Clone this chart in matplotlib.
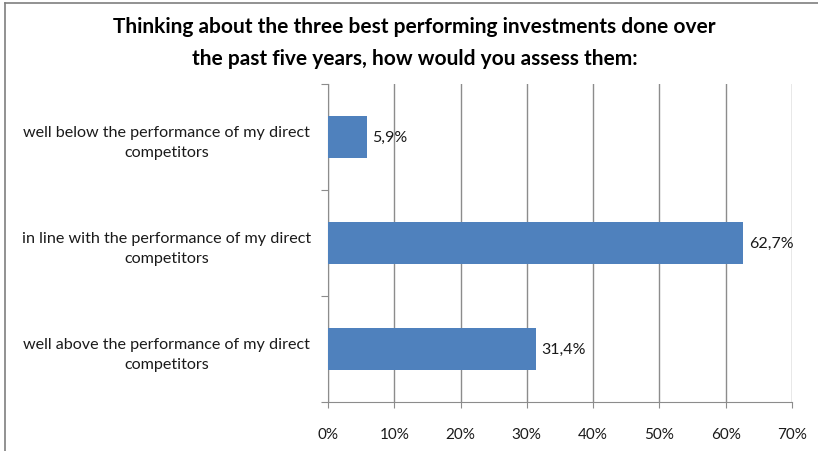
import matplotlib
matplotlib.use('Agg')
import matplotlib.pyplot as plt
from matplotlib.lines import Line2D

plt.rcParams['font.family'] = ['Lato', 'DejaVu Sans']

categories = [
    'well above the performance of my direct\ncompetitors',
    'in line with the performance of my direct\ncompetitors',
    'well below the performance of my direct\ncompetitors',
]
values = [31.4, 62.7, 5.9]
value_labels = ['31,4%', '62,7%', '5,9%']
xticks = [0, 10, 20, 30, 40, 50, 60, 70]

title = ('Thinking about the three best performing investments done over\n'
         'the past five years, how would you assess them:')

fig = plt.figure(figsize=(8.18, 4.52), dpi=100)
ax = fig.add_axes([0.401, 0.108, 0.567, 0.704])

grid_color = '#8c8c8c'
text_color = '#1a1a1a'

ax.barh(range(len(values)), values, height=0.4, color='#4F81BD', zorder=3)
for i, (v, lab) in enumerate(zip(values, value_labels)):
    ax.text(v + 0.8, i, lab, va='center', ha='left', fontsize=11.5, color=text_color, zorder=4)

ax.set_xlim(0, 70)
ax.set_ylim(-0.5, 2.5)
ax.set_xticks(xticks)
ax.set_xticklabels([f'{t}%' for t in xticks], fontsize=11, color=text_color)
ax.set_yticks([-0.5, 0.5, 1.5, 2.5])
ax.set_yticklabels([])
ax.set_yticks(range(len(categories)), minor=True)
ax.set_yticklabels(categories, minor=True, fontsize=11.6, color=text_color,
                   ha='center', linespacing=1.55)
ax.tick_params(axis='y', which='minor', length=0, pad=116)
ax.tick_params(axis='y', which='major', length=5, color=grid_color, direction='out')
ax.tick_params(axis='x', length=4, color=grid_color, direction='out', pad=14)

ax.grid(axis='x', color=grid_color, linewidth=1, zorder=0)
for side in ['top', 'right']:
    ax.spines[side].set_visible(False)
for side in ['left', 'bottom']:
    ax.spines[side].set_color(grid_color)

fig.text(0.507, 0.905, title, ha='center', va='center', fontsize=15, fontweight='bold',
         color='black', linespacing=1.7)

# outer chart frame (left and top edges)
fig.add_artist(Line2D([5 / 818, 5 / 818], [0, 1 - 4 / 452], transform=fig.transFigure,
                      color='#7f7f7f', linewidth=1.2))
fig.add_artist(Line2D([5 / 818, 1], [1 - 4 / 452, 1 - 4 / 452], transform=fig.transFigure,
                      color='#7f7f7f', linewidth=1.2))

fig.savefig('out.png', dpi=100, facecolor='white')
